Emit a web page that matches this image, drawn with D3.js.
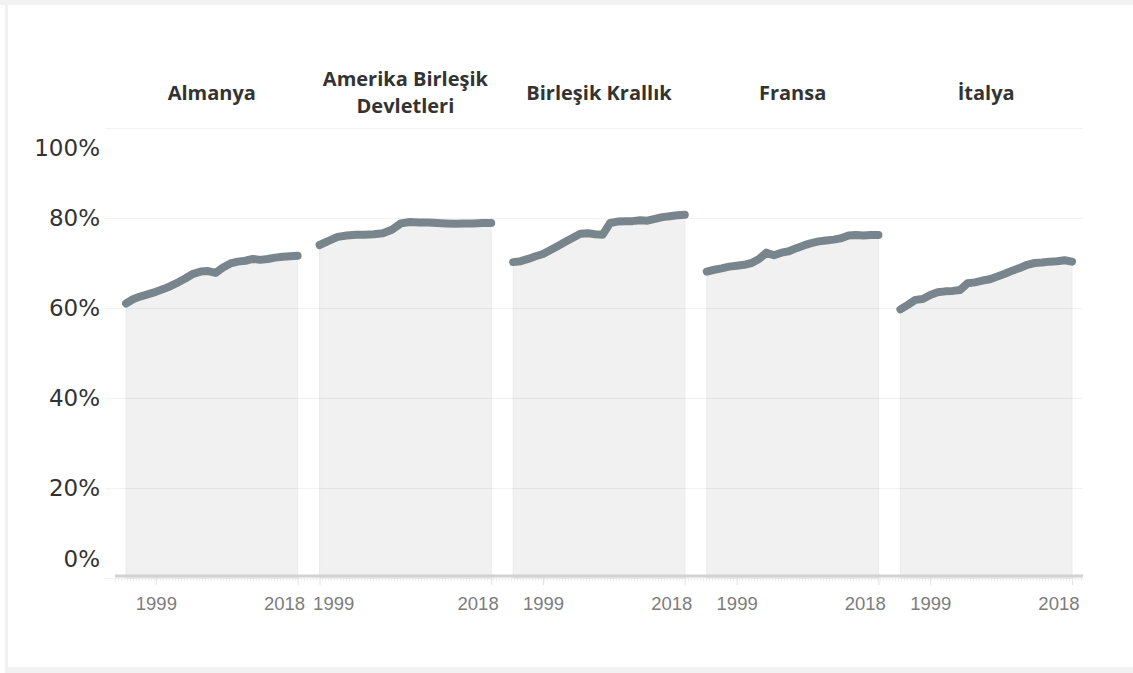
<!DOCTYPE html>
<html>
<head>
<meta charset="utf-8">
<script src="https://cdn.jsdelivr.net/npm/d3@7"></script>
<style>
  body { margin: 0; background: #fff; }
  svg { display: block; }
</style>
</head>
<body>
<svg id="chart" width="1133" height="673"></svg>
<script>
// data
var countries = ["Almanya", "Amerika Birleşik\nDevletleri", "Birleşik Krallık", "Fransa", "İtalya"];
var startYears = [1995, 1999, 1995, 1995, 1995];
var endYear = 2018;

var almanya = [61.0, 62.0, 62.6, 63.1, 63.6, 64.2, 64.9, 65.7, 66.6, 67.6, 68.1, 68.2,
               67.8, 69.0, 69.9, 70.3, 70.5, 70.9, 70.7, 70.9, 71.2, 71.4, 71.5, 71.6];
var abd = [74.0, 74.9, 75.8, 76.1, 76.3, 76.3, 76.4, 76.6, 77.4, 78.8,
           79.1, 79.0, 79.0, 78.9, 78.8, 78.7, 78.8, 78.8, 78.9, 78.9];
var ingiltere = [70.2, 70.4, 70.9, 71.5, 72.0, 72.9, 73.8, 74.7, 75.6, 76.5, 76.6, 76.4,
                 76.3, 78.9, 79.2, 79.3, 79.3, 79.5, 79.4, 79.8, 80.2, 80.4, 80.6, 80.7];
var fransa = [68.1, 68.5, 68.8, 69.2, 69.4, 69.6, 70.0, 70.9, 72.3, 71.7, 72.3, 72.6,
              73.3, 73.9, 74.4, 74.8, 75.0, 75.2, 75.5, 76.1, 76.2, 76.1, 76.2, 76.2];
var italya = [59.7, 60.7, 61.8, 62.0, 62.9, 63.5, 63.7, 63.8, 64.0, 65.5, 65.7, 66.1,
              66.4, 67.0, 67.6, 68.3, 68.9, 69.6, 70.0, 70.1, 70.3, 70.4, 70.6, 70.3];

var series = [almanya, abd, ingiltere, fransa, italya];
var yTicks = [0, 0.2, 0.4, 0.6, 0.8, 1];
var xTickYears = [1999, 2018];

// layout
var svg = d3.select("#chart"),
    W = +svg.attr("width"), H = +svg.attr("height"),
    gridLeft = 105, plotLeft = 115, plotRight = 1083,
    plotTop = 128, plotBottom = 578,
    colW = (plotRight - plotLeft) / countries.length,
    colPad = 11;

// frame
svg.append("rect").attr("x", 0).attr("y", 0).attr("width", W).attr("height", H).attr("fill", "#f2f2f2");
svg.append("rect").attr("x", 0).attr("y", 5).attr("width", 5).attr("height", H).attr("fill", "#fff");
svg.append("rect").attr("x", 8).attr("y", 5).attr("width", W).attr("height", 662).attr("fill", "#fff");

var y = d3.scaleLinear().domain([0, 1]).range([plotBottom, plotTop]);

// headers
countries.forEach(function(name, i) {
  var lines = name.split("\n"),
      cx = plotLeft + colW * (i + 0.5),
      lh = 26.5,
      t = svg.append("text")
        .attr("x", cx)
        .attr("text-anchor", "middle")
        .attr("font-family", "Open Sans")
        .attr("font-weight", 700)
        .attr("font-size", 20)
        .attr("fill", "#333");
  lines.forEach(function(l, k) {
    t.append("tspan")
      .attr("x", cx)
      .attr("y", 92.5 + (k - (lines.length - 1) / 2) * lh)
      .attr("dy", "0.36em")
      .text(l);
  });
});

function paneScale(i) {
  return d3.scaleLinear().domain([startYears[i], endYear]).range([colPad, colW - colPad]);
}
function panePoints(vals, i) {
  return vals.map(function(v, k) { return { year: startYears[i] + k, v: v / 100 }; });
}

// areas
series.forEach(function(vals, i) {
  var x = paneScale(i);
  svg.append("g")
      .attr("transform", "translate(" + (plotLeft + colW * i) + ",0)")
    .append("path")
      .datum(panePoints(vals, i))
      .attr("fill", "#f1f1f1")
      .attr("stroke", "#ebebeb")
      .attr("stroke-width", 1)
      .attr("d", d3.area()
        .x(function(d) { return x(d.year); })
        .y0(y(0))
        .y1(function(d) { return y(d.v); }));
});

// y grid + labels
var yAxis = d3.axisLeft(y)
    .tickValues(yTicks)
    .tickFormat(d3.format(".0%"))
    .tickSize(-(plotRight - gridLeft))
    .tickPadding(5);

svg.append("g")
    .attr("transform", "translate(" + gridLeft + ",0)")
    .call(yAxis)
    .call(function(g) {
      g.select(".domain").remove();
      g.selectAll(".tick line").attr("stroke", "#000").attr("stroke-opacity", 0.05);
      g.selectAll(".tick text")
        .attr("font-family", "DejaVu Sans")
        .attr("font-size", 23)
        .attr("fill", "#333")
        .attr("dy", function(d) { return d === 1 ? "1.18em" : d === 0 ? "-0.52em" : "0.34em"; });
    });

// lines + x axes
series.forEach(function(vals, i) {
  var x = paneScale(i);
  var pane = svg.append("g").attr("transform", "translate(" + (plotLeft + colW * i) + ",0)");

  pane.append("path")
      .datum(panePoints(vals, i))
      .attr("fill", "none")
      .attr("stroke", "#79858c")
      .attr("stroke-width", 8)
      .attr("stroke-linejoin", "round")
      .attr("stroke-linecap", "round")
      .attr("d", d3.line()
        .x(function(d) { return x(d.year); })
        .y(function(d) { return y(d.v); }));

  var xAxis = d3.axisBottom(x)
      .tickValues(xTickYears)
      .tickFormat(d3.format("d"))
      .tickSize(8);

  var ax = pane.append("g")
      .attr("transform", "translate(0," + (plotBottom - 1) + ")")
      .call(xAxis);
  ax.select(".domain").remove();
  ax.selectAll(".tick line").attr("stroke", "#e2e2e2").attr("stroke-width", 1);
  ax.selectAll(".tick text")
      .attr("font-family", "Liberation Sans")
      .attr("font-size", 18.5)
      .attr("fill", "#7c7c7c")
      .attr("y", 27)
      .attr("dy", "0.35em")
      .attr("x", function(d) {
        var w = this.getComputedTextLength(), p = x(d), s = 0;
        if (p - w / 2 < 4) s = 4 - (p - w / 2);
        if (p + w / 2 > colW - 4) s = (colW - 4) - (p + w / 2);
        return s;
      });
});

// axis line
svg.append("line")
    .attr("x1", plotLeft).attr("x2", plotRight)
    .attr("y1", plotBottom - 2).attr("y2", plotBottom - 2)
    .attr("stroke", "#d2d2d2").attr("stroke-width", 3);
svg.append("line")
    .attr("x1", plotLeft).attr("x2", plotRight)
    .attr("y1", plotBottom + 1.5).attr("y2", plotBottom + 1.5)
    .attr("stroke", "#ececec").attr("stroke-width", 2)
    .attr("stroke-dasharray", "1,2");
</script>
</body>
</html>
